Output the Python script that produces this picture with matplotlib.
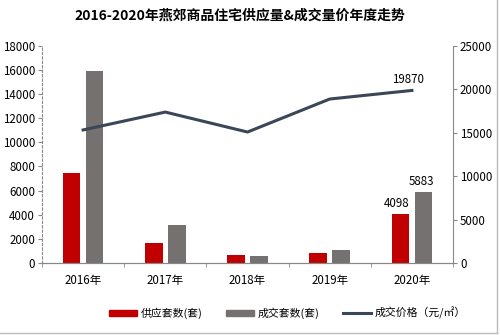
import numpy as np
import matplotlib.pyplot as plt
from matplotlib.lines import Line2D

plt.rcParams['font.family'] = ['Noto Sans CJK SC', 'DejaVu Sans']

# --- data ---
years = ["2016年", "2017年", "2018年", "2019年", "2020年"]
supply = [7500, 1620, 650, 800, 4098]
deals = [15950, 3150, 560, 1080, 5883]
price = [15320, 17380, 15080, 18880, 19870]

red = "#C00000"
gray = "#767171"
navy = "#3B4656"

fig = plt.figure(figsize=(5.0, 3.35), dpi=100)
ax = fig.add_axes([0.084, 0.215, 0.822, 0.648])
x = np.arange(len(years))
w = 0.215
off = 0.14

ax.bar(x - off, supply, w, color=red, label="供应套数(套)")
ax.bar(x + off, deals, w, color=gray, label="成交套数(套)")
ax.set_xlim(-0.5, len(years) - 0.5)
ax.set_ylim(0, 18000)
ax.set_yticks(range(0, 18001, 2000))
ax.set_xticks(x)
ax.set_xticklabels(years)
ax.set_xticks(np.arange(-0.5, len(years), 1), minor=True)
ax.tick_params(axis="x", which="major", length=0, pad=8, labelsize=8.3)
ax.tick_params(axis="x", which="minor", length=3, color="#888888")
ax.tick_params(axis="y", length=3, color="#888888", labelsize=8.3, pad=2)

ax.text(x[-1] - off - 0.04, supply[-1] + 300, str(supply[-1]), ha="center", va="bottom", fontsize=8.3)
ax.text(x[-1] + off - 0.03, deals[-1] + 300, str(deals[-1]), ha="center", va="bottom", fontsize=8.3)

ax2 = ax.twinx()
ax2.plot(x, price, color=navy, lw=2.2)
ax2.set_ylim(0, 25000)
ax2.set_yticks(range(0, 25001, 5000))
ax2.tick_params(axis="y", length=3, color="#888888", labelsize=8.3, pad=2)
ax2.text(x[-1] - 0.05, price[-1] + 500, str(price[-1]), ha="center", va="bottom", fontsize=8.3)

for a in (ax, ax2):
    a.spines["top"].set_visible(False)
    a.spines["left"].set_visible(False)
    a.spines["right"].set_visible(False)
    a.spines["bottom"].set_color("#888888")
ax.spines["left"].set_visible(True)
ax.spines["left"].set_color("#888888")
ax.spines["left"].set_linestyle((0, (2, 2)))
ax2.spines["right"].set_visible(True)
ax2.spines["right"].set_color("#888888")

fig.suptitle("2016-2020年燕郊商品住宅供应量&成交量价年度走势", x=0.48, y=0.975,
             fontsize=10, fontweight="bold")

handles = [
    plt.Rectangle((0, 0), 1, 1, color=red),
    plt.Rectangle((0, 0), 1, 1, color=gray),
    Line2D([0], [0], color=navy, lw=2.2),
]
labels = ["供应套数(套)", "成交套数(套)", "成交价格（元/㎡）"]
fig.legend(handles, labels, loc="center", bbox_to_anchor=(0.575, 0.065), ncol=3,
           frameon=False, fontsize=7.8, handlelength=2.6, handleheight=0.45,
           columnspacing=2.2, handletextpad=0.3)

# thin frame on right and bottom edges
fig.add_artist(Line2D([0.0, 0.994], [0.006, 0.006], color="#BBBBBB", lw=1))
fig.add_artist(Line2D([0.994, 0.994], [0.006, 1.0], color="#BBBBBB", lw=1))

fig.savefig("out.png", dpi=100)
